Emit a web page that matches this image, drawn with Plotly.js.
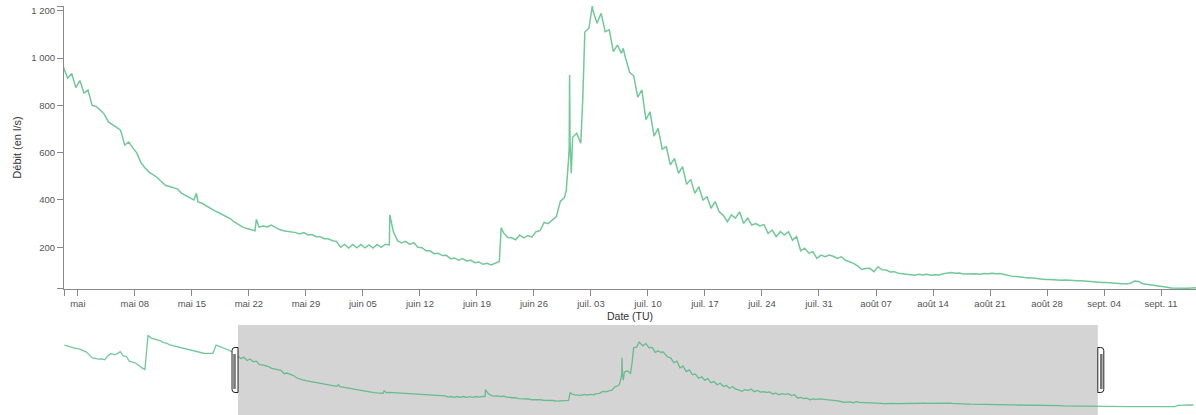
<!DOCTYPE html>
<html lang="fr">
<head>
<meta charset="utf-8">
<script src="https://cdn.plot.ly/plotly-3.0.1.min.js"></script>
<style>
  html, body { margin: 0; padding: 0; background: #fff; }
  #chart { width: 1196px; height: 415px; }
</style>
</head>
<body>
<div id="chart"></div>
<script>
// Débit relevé toutes les 12 h (06:00 et 18:00 TU), une ligne = un jour
const avril = [
  1160, 1140, 1120, 1110, 1095, 1085, 1060, 1035, 980, 925,
  915, 900, 905, 890, 960, 1005, 985, 1000, 1040, 960,
  950, 860, 845, 830, 790, 740, 710, 1340, 1290, 1275,
  1255, 1240, 1205, 1195, 1165, 1150, 1135, 1120, 1105, 1090,
  1075, 1060, 1045, 1035, 1020, 1010, 1008, 1005, 1010, 1160,
  1140, 1120, 1100, 1070, 1040, 1035, 960, 915, 935, 875
];
const mai = [
  905, 852, 865, 800, 795, 780, 762, 730, 718, 705,
  695, 632, 645, 620, 598, 558, 535, 518, 505, 495,
  478, 462, 457, 452, 446, 428, 418, 407, 400, 392,
  386, 375, 365, 355, 347, 338, 330, 320, 306, 294,
  285, 279, 275, 270, 285, 290, 286, 294, 284, 275,
  270, 268, 263, 262, 256, 262, 252, 254, 245, 245,
  236, 236
];
const juin = [
  228, 225, 200, 212, 197, 212, 198, 212, 198, 210,
  197, 212, 200, 213, 210, 265, 228, 218, 225, 212,
  220, 200, 198, 185, 185, 173, 175, 165, 166, 152,
  155, 145, 152, 142, 145, 135, 138, 128, 132, 125,
  133, 140, 262, 242, 240, 232, 252, 240, 250, 243,
  266, 270, 305, 300, 315, 330, 395, 410, 570, 665
];
const juillet = [
  682, 640, 1110, 1126, 1200, 1147, 1189, 1111, 1119, 1027,
  1055, 1020, 1000, 940, 925, 835, 865, 740, 773, 670,
  703, 615, 625, 548, 576, 513, 541, 466, 487, 428,
  456, 400, 414, 365, 393, 350, 335, 308, 337, 323,
  350, 301, 323, 294, 300, 290, 296, 259, 273, 245,
  266, 252, 266, 230, 245, 185, 196, 175, 181, 153,
  167, 160
];
const aout = [
  167, 162, 153, 160, 145, 140, 132, 120, 106, 110,
  111, 97, 118, 105, 104, 96, 97, 90, 88, 85,
  86, 82, 86, 83, 86, 82, 84, 83, 88, 90,
  93, 90, 91, 87, 88, 86, 88, 86, 89, 88,
  90, 88, 89, 85, 80, 77, 76, 73, 73, 70,
  70, 67, 67, 64, 64, 62, 63, 61, 62, 60,
  61, 58
];
const septembre = [
  58, 56, 56, 54, 53, 51, 51, 49, 48, 46,
  46, 45, 48, 57, 55, 46, 44, 41, 40, 37,
  34, 31, 28, 27, 27, 26, 27, 28, 30, 30,
  28, 27, 27, 26, 26, 25, 25, 25, 24, 24,
  24, 24, 25, 25, 24, 24, 24, 24, 25, 25,
  24, 24, 25, 25, 48, 55, 54, 55, 54, 55
];

// Pics brefs relevés entre deux mesures de 12 h
const pointesDates = [
  '2016-05-15 13:12', '2016-05-22 22:00', '2016-06-08 07:12', '2016-06-21 23:30',
  '2016-06-29 23:15', '2016-06-30 04:00', '2016-06-30 08:00', '2016-06-30 09:00',
  '2016-06-30 10:30', '2016-06-30 14:00', '2016-07-02 00:00', '2016-07-03 04:00',
  '2016-07-06 23:00'
];
const pointesDebit = [428, 318, 337, 282, 442, 513, 625, 928, 640, 513, 830, 1220, 1041];

// Graduations
const xTickDates = [
  '2016-05-01', '2016-05-08', '2016-05-15', '2016-05-22', '2016-05-29',
  '2016-06-05', '2016-06-12', '2016-06-19', '2016-06-26', '2016-07-03',
  '2016-07-10', '2016-07-17', '2016-07-24', '2016-07-31', '2016-08-07',
  '2016-08-14', '2016-08-21', '2016-08-28', '2016-09-04', '2016-09-11'
];
const xTickLabels = [
  'mai', 'mai 08', 'mai 15', 'mai 22', 'mai 29',
  'juin 05', 'juin 12', 'juin 19', 'juin 26', 'juil. 03',
  'juil. 10', 'juil. 17', 'juil. 24', 'juil. 31', 'août 07',
  'août 14', 'août 21', 'août 28', 'sept. 04', 'sept. 11'
];
const yTickValues = [200, 400, 600, 800, 1000, 1200];
const yTickLabels = ['200', '400', '600', '800', '1 000', '1 200'];

// Fenêtre de sélection (brosse) et étendues
const selection = ['2016-04-29 07:10', '2016-09-15 07:00'];
const etendueTotale = ['2016-04-01 04:00', '2016-10-01 04:00'];
const etendueDebit = [23.7, 1220];
const etendueContexte = [-129, 1531];

// ---- construction de la série ----
function parseDate(s) {
  const [d, h] = s.split(' ');
  const [Y, M, D] = d.split('-').map(Number);
  const [hh, mm] = (h || '00:00').split(':').map(Number);
  return Date.UTC(Y, M - 1, D, hh, mm);
}
const debutSerie = Date.UTC(2016, 3, 1, 6, 0);
const pas = 12 * 3600 * 1000;
const reguliers = [].concat(avril, mai, juin, juillet, aout, septembre)
  .map((v, i) => [debutSerie + i * pas, v]);
const pointes = pointesDates.map((d, i) => [parseDate(d), pointesDebit[i]]);
const serie = reguliers.concat(pointes).sort((a, b) => a[0] - b[0]);
const temps = serie.map(p => p[0]);
const debit = serie.map(p => p[1]);

const vert = 'rgba(60,179,113,0.72)';
const gris = '#888';
const police = 'Liberation Sans, Arial, sans-serif';

const traces = [
  { x: temps, y: debit, xaxis: 'x', yaxis: 'y', type: 'scatter', mode: 'lines',
    line: { color: vert, width: 1.5 }, hoverinfo: 'skip', showlegend: false },
  { x: temps, y: debit, xaxis: 'x2', yaxis: 'y2', type: 'scatter', mode: 'lines',
    line: { color: vert, width: 1.3 }, hoverinfo: 'skip', showlegend: false }
];

function poignee(xAncre, cote) {
  // cote = -1 : à gauche de la brosse ; +1 : à droite
  const w = 6, h = 22.5, r = 3;
  const path = cote < 0
    ? `M0,${-h} L${-w + r},${-h} Q${-w},${-h} ${-w},${-h + r} L${-w},${h - r} Q${-w},${h} ${-w + r},${h} L0,${h} Z`
    : `M0,${-h} L${w - r},${-h} Q${w},${-h} ${w},${-h + r} L${w},${h - r} Q${w},${h} ${w - r},${h} L0,${h} Z`;
  const barre = cote < 0
    ? 'M-4.8,-19 L-2.2,-19 L-2.2,16 L-4.8,16 Z'
    : 'M2.2,-19 L4.8,-19 L4.8,16 L2.2,16 Z';
  const base = { xref: 'x2', yref: 'y2 domain', xsizemode: 'pixel', ysizemode: 'pixel',
    xanchor: xAncre, yanchor: 0.5, layer: 'above' };
  return [
    Object.assign({ type: 'path', path: path, fillcolor: '#fff', line: { color: '#222', width: 1 } }, base),
    Object.assign({ type: 'path', path: barre, fillcolor: '#777', line: { width: 0 } }, base)
  ];
}

// graduations d'extrémité (comme les « outer ticks » d'un axe d3)
const xTickAll = [selection[0]].concat(xTickDates, [selection[1]]);
const xTextAll = [''].concat(xTickLabels, ['']);
const yTickAll = [etendueDebit[0]].concat(yTickValues, [etendueDebit[1]]);
const yTextAll = [''].concat(yTickLabels, ['']);

const layout = {
  width: 1196, height: 415,
  margin: { l: 64, r: 0, t: 6, b: 0 },
  paper_bgcolor: '#fff', plot_bgcolor: 'rgba(0,0,0,0)',
  font: { family: police, size: 10, color: '#555' },
  showlegend: false,
  xaxis: {
    type: 'date', range: selection, domain: [0, 1], anchor: 'y',
    tickmode: 'array', tickvals: xTickAll, ticktext: xTextAll,
    ticks: 'outside', ticklen: 6, tickcolor: gris, tickwidth: 1,
    showline: true, linecolor: gris, linewidth: 1, showgrid: false, zeroline: false,
    tickfont: { size: 9.5, color: '#555', family: police },
    title: { text: 'Date (TU)', font: { size: 10.5, color: '#333', family: police }, standoff: 4 },
    fixedrange: true
  },
  yaxis: {
    range: etendueDebit, domain: [0.3081, 1], anchor: 'x',
    tickmode: 'array', tickvals: yTickAll, ticktext: yTextAll,
    ticks: 'outside', ticklen: 6, tickcolor: gris, tickwidth: 1,
    showline: true, linecolor: gris, linewidth: 1, showgrid: false, zeroline: false,
    tickfont: { size: 9.5, color: '#555', family: police },
    title: { text: 'Débit (en l/s)', font: { size: 11, color: '#333', family: police }, standoff: 7 },
    fixedrange: true
  },
  xaxis2: {
    type: 'date', range: etendueTotale, domain: [0, 1], anchor: 'y2',
    visible: false, fixedrange: true
  },
  yaxis2: {
    range: etendueContexte, domain: [0, 0.22005], anchor: 'x2',
    visible: false, fixedrange: true
  },
  shapes: [
    { type: 'rect', xref: 'x2', yref: 'y2 domain', x0: selection[0], x1: selection[1], y0: 0, y1: 1,
      fillcolor: 'rgb(212,212,212)', line: { width: 0 }, layer: 'below' }
  ].concat(poignee(selection[0], -1), poignee(selection[1], 1))
};

Plotly.newPlot('chart', traces, layout, { staticPlot: true, displayModeBar: false });
</script>
</body>
</html>
